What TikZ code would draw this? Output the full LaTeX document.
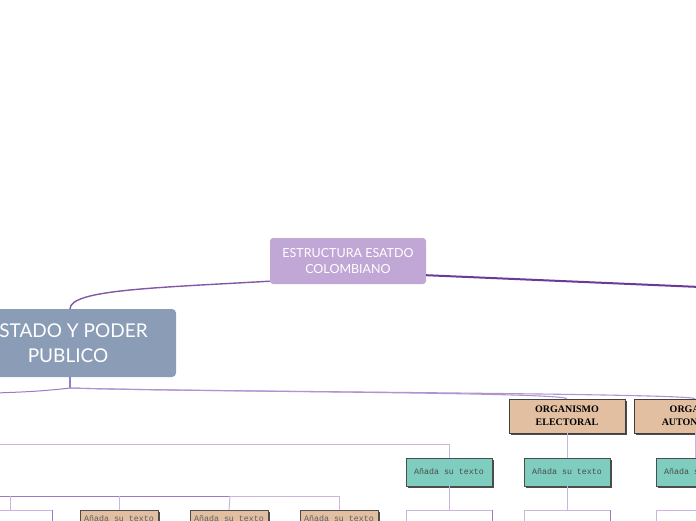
\documentclass[tikz,border=0pt]{standalone}
\usepackage{fontspec}
\setmainfont{Lato}
\newfontfamily\orgfont{Liberation Serif}
\newfontfamily\addfont{Liberation Mono}
\usetikzlibrary{shadows}
\definecolor{topc}{HTML}{C1A7D5}
\definecolor{grayc}{HTML}{8B9DB6}
\definecolor{darkp}{HTML}{6B3A97}
\definecolor{midp}{HTML}{9E78C4}
\definecolor{lightp}{HTML}{CBB5DE}
\definecolor{tanc}{HTML}{E2BFA0}
\definecolor{tealc}{HTML}{7ECDBF}
\definecolor{addtxt}{HTML}{5E5E5E}
\tikzset{
  topbox/.style={fill=topc, rounded corners=3pt, text=white, align=center,
    minimum width=156pt, minimum height=46pt, font=\fontsize{12.5}{16}\selectfont, inner sep=0pt},
  graybox/.style={fill=grayc, rounded corners=4pt, text=white, align=center,
    minimum width=216pt, minimum height=68pt, font=\fontsize{19}{25}\selectfont, inner sep=0pt},
  orgbox/.style={fill=tanc, draw=black!75, line width=0.6pt, align=center,
    minimum width=116pt, minimum height=34pt, inner sep=0pt,
    font=\orgfont\bfseries\fontsize{10}{13}\selectfont,
    drop shadow={shadow xshift=1.6pt, shadow yshift=-1.6pt, fill=black!70, opacity=1}},
  tealbox/.style={fill=tealc, draw=black!70, line width=0.5pt, text=addtxt!80!black,
    minimum width=86pt, minimum height=28pt, inner sep=0pt,
    font=\addfont\fontsize{8.3}{10}\selectfont,
    drop shadow={shadow xshift=1.6pt, shadow yshift=-1.6pt, fill=black!70, opacity=1}},
  tanbox/.style={fill=tanc, draw=black!70, line width=0.5pt, text=addtxt,
    minimum width=78pt, minimum height=16pt, inner sep=0pt,
    font=\addfont\fontsize{8.3}{10}\selectfont,
    drop shadow={shadow xshift=1.6pt, shadow yshift=-1.6pt, fill=black!70, opacity=1}},
  whitebox/.style={fill=white, draw=lightp, line width=0.8pt,
    minimum width=86pt, minimum height=30pt, inner sep=0pt},
  thinline/.style={draw=lightp, line width=1pt},
  midline/.style={draw=midp, line width=1pt}
}
\begin{document}
\begin{tikzpicture}[x=1pt,y=-1pt]
\useasboundingbox (0,0) rectangle (696,520);

\coordinate (rightend) at (700,287);
\coordinate (gsplit) at (70,388);
\coordinate (leftend) at (-5,393);
\coordinate (l444) at (-5,444);
\coordinate (l496) at (-5,496);
\coordinate (k496) at (230,496);

\node[topbox] (top) at (348,261) {ESTRUCTURA ESATDO\\COLOMBIANO};
\node[graybox] (gray) at (68,343) {ESTADO Y PODER\\PUBLICO};
\node[orgbox] (elect) at (567,416) {ORGANISMO\\ELECTORAL};
\node[orgbox, minimum width=122pt] (auto) at (695,416) {ORGANOS\\AUTONOMOS};

\node[tealbox] (t1) at (449,472) {Añada su texto};
\node[tealbox] (t2) at (567,472) {Añada su texto};
\node[tealbox] (t3) at (699,472) {Añada su texto};

\node[whitebox, anchor=north] (w1) at (449,510) {};
\node[whitebox, anchor=north] (w2) at (567,510) {};
\node[whitebox, anchor=north] (w3) at (699,510) {};
\node[whitebox, anchor=north, minimum width=84pt] (wl) at (10,510) {};

\node[tanbox, anchor=north] (a1) at (119,510) {Añada su texto};
\node[tanbox, anchor=north] (a2) at (229,510) {Añada su texto};
\node[tanbox, anchor=north] (a3) at (339,510) {Añada su texto};

\foreach \w in {w1,w2,w3,wl}{
  \draw[draw=midp, line width=1.4pt] (\w.north east) -- (\w.south east);
}

\draw[draw=darkp!85, line width=1.4pt] ([yshift=3pt]top.south west) .. controls (150,288) and (70,290) .. (70,309);
\draw[draw=darkp, line width=2pt] ([yshift=9pt]top.south east) -- (rightend);

\draw[midline, line width=1.2pt] (70,377) -- (gsplit);
\draw[midline] (gsplit) .. controls (45,391) and (25,392) .. (leftend);
\draw[draw=midp!80, line width=1.1pt] (gsplit) .. controls (200,392) and (560,392) .. (elect.north);
\draw[draw=midp!80, line width=1.1pt] (gsplit) .. controls (200,392) and (690,393) .. (auto.north);

\draw[thinline] (l444) -| (t1.north);
\draw[thinline] (t1.south) -- (w1.north);
\draw[thinline] (elect.south) -- (t2.north);
\draw[thinline] (t2.south) -- (w2.north);
\draw[thinline] (auto.south) -- (auto.south |- t3.north);
\draw[thinline] (t3.south) -- (w3.north);

\draw[midline] (l496) -- (k496);
\draw[thinline] (k496) -| (a3.north);
\draw[thinline] (wl.north -| 10,0) -- (10,496);
\draw[thinline] (a1.north) -- (a1.north |- k496);
\draw[thinline] (a2.north) -- (k496);
\end{tikzpicture}
\end{document}
